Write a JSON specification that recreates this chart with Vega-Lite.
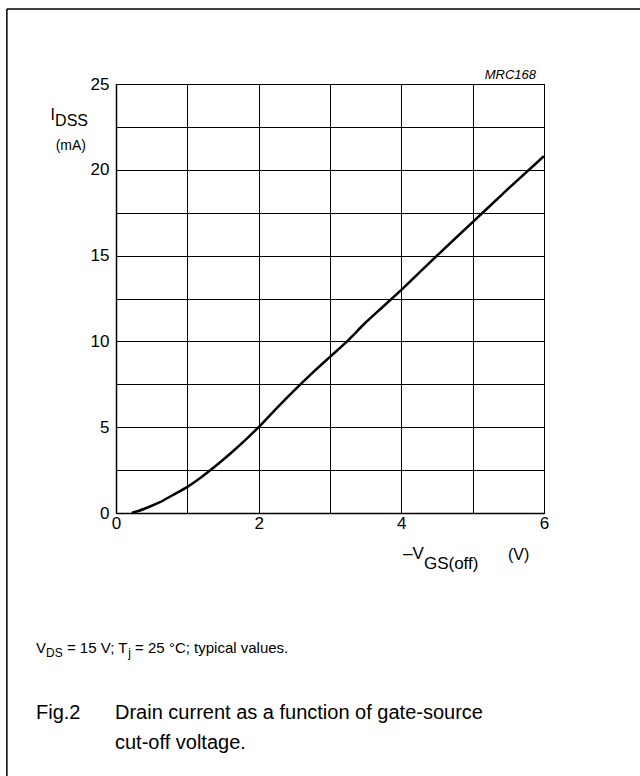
{
  "$schema": "https://vega.github.io/schema/vega-lite/v6.json",
  "width": 428,
  "height": 429,
  "autosize": {"type": "none"},
  "padding": {"left": 116, "top": 84, "right": 96, "bottom": 263},
  "background": "white",
  "config": {
    "font": "Liberation Sans",
    "view": {"stroke": "black", "strokeWidth": 1},
    "text": {"font": "Liberation Sans", "color": "black"}
  },
  "layer": [
    {
      "data": {"values": [
        {"v": 0.22, "i": 0}, {"v": 0.4, "i": 0.25}, {"v": 0.6, "i": 0.6}, {"v": 0.8, "i": 1.05},
        {"v": 1.0, "i": 1.52}, {"v": 1.2, "i": 2.1}, {"v": 1.4, "i": 2.75}, {"v": 1.6, "i": 3.45},
        {"v": 1.8, "i": 4.2}, {"v": 2.0, "i": 5.0}, {"v": 2.25, "i": 6.1}, {"v": 2.5, "i": 7.15},
        {"v": 2.75, "i": 8.15}, {"v": 3.0, "i": 9.1}, {"v": 3.25, "i": 10.05}, {"v": 3.5, "i": 11.1},
        {"v": 3.75, "i": 12.05}, {"v": 4.0, "i": 13.0}, {"v": 4.5, "i": 15.0}, {"v": 5.0, "i": 16.95},
        {"v": 5.5, "i": 18.9}, {"v": 6.0, "i": 20.8}
      ]},
      "mark": {"type": "line", "color": "black", "strokeWidth": 2.5, "interpolate": "monotone"},
      "encoding": {
        "x": {"field": "v", "type": "quantitative",
          "scale": {"domain": [0, 6], "nice": false, "zero": false},
          "axis": {"title": null, "values": [0, 1, 2, 3, 4, 5, 6], "labelExpr": "datum.value % 2 == 0 ? format(datum.value, 'd') : ''",
            "grid": true, "gridColor": "black", "gridWidth": 1, "gridOpacity": 1, "ticks": false,
            "domainColor": "black", "domainWidth": 1.5, "labelFont": "Liberation Sans", "labelFontSize": 17,
            "labelColor": "black", "labelPadding": 2, "labelDx": 2, "labelFlush": false, "labelOverlap": false}},
        "y": {"field": "i", "type": "quantitative",
          "scale": {"domain": [0, 25], "nice": false, "zero": false},
          "axis": {"title": null, "values": [0, 2.5, 5, 7.5, 10, 12.5, 15, 17.5, 20, 22.5, 25], "labelExpr": "datum.value % 5 == 0 ? format(datum.value, 'd') : ''",
            "grid": true, "gridColor": "black", "gridWidth": 1, "gridOpacity": 1, "ticks": false,
            "domainColor": "black", "domainWidth": 1.5, "labelFont": "Liberation Sans", "labelFontSize": 17,
            "labelColor": "black", "labelPadding": 7, "labelFlush": false, "labelOverlap": false}}
      }
    },
    {
      "data": {"values": [{"k": "frame"}]},
      "mark": {"type": "rule", "color": "black", "strokeWidth": 1.5},
      "encoding": {"x": {"datum": -1.53, "type": "quantitative"}, "x2": {"datum": 7.35}, "y": {"datum": 29.37, "type": "quantitative"}}
    },
    {
      "data": {"values": [{"k": "frame"}]},
      "mark": {"type": "rule", "color": "black", "strokeWidth": 1.5},
      "encoding": {"x": {"datum": -1.53, "type": "quantitative"}, "y": {"datum": 29.37, "type": "quantitative"}, "y2": {"datum": -15.33}}
    },
    {
      "data": {"values": [{"t": "MRC168"}]},
      "mark": {"type": "text", "align": "right", "baseline": "alphabetic", "fontSize": 13, "fontStyle": "italic"},
      "encoding": {"x": {"datum": 5.888, "type": "quantitative"}, "y": {"datum": 25.29, "type": "quantitative"}, "text": {"field": "t"}}
    },
    {
      "data": {"values": [{"t": "I"}]},
      "mark": {"type": "text", "align": "right", "baseline": "alphabetic", "fontSize": 16},
      "encoding": {"x": {"datum": -0.855, "type": "quantitative"}, "y": {"datum": 22.9, "type": "quantitative"}, "text": {"field": "t"}}
    },
    {
      "data": {"values": [{"t": "DSS"}]},
      "mark": {"type": "text", "align": "right", "baseline": "alphabetic", "fontSize": 16},
      "encoding": {"x": {"datum": -0.3925, "type": "quantitative"}, "y": {"datum": 22.58, "type": "quantitative"}, "text": {"field": "t"}}
    },
    {
      "data": {"values": [{"t": "(mA)"}]},
      "mark": {"type": "text", "align": "right", "baseline": "alphabetic", "fontSize": 14},
      "encoding": {"x": {"datum": -0.4206, "type": "quantitative"}, "y": {"datum": 21.15, "type": "quantitative"}, "text": {"field": "t"}}
    },
    {
      "data": {"values": [{"t": "–V"}]},
      "mark": {"type": "text", "align": "left", "baseline": "alphabetic", "fontSize": 17},
      "encoding": {"x": {"datum": 4.023, "type": "quantitative"}, "y": {"datum": -2.68, "type": "quantitative"}, "text": {"field": "t"}}
    },
    {
      "data": {"values": [{"t": "GS(off)"}]},
      "mark": {"type": "text", "align": "left", "baseline": "alphabetic", "fontSize": 17},
      "encoding": {"x": {"datum": 4.317, "type": "quantitative"}, "y": {"datum": -3.26, "type": "quantitative"}, "text": {"field": "t"}}
    },
    {
      "data": {"values": [{"t": "(V)"}]},
      "mark": {"type": "text", "align": "left", "baseline": "alphabetic", "fontSize": 16},
      "encoding": {"x": {"datum": 5.495, "type": "quantitative"}, "y": {"datum": -2.74, "type": "quantitative"}, "text": {"field": "t"}}
    },
    {
      "data": {"values": [{"t": "V"}]},
      "mark": {"type": "text", "align": "left", "baseline": "alphabetic", "fontSize": 15},
      "encoding": {"x": {"datum": -1.1215, "type": "quantitative"}, "y": {"datum": -8.159, "type": "quantitative"}, "text": {"field": "t"}}
    },
    {
      "data": {"values": [{"t": "DS"}]},
      "mark": {"type": "text", "align": "left", "baseline": "alphabetic", "fontSize": 12},
      "encoding": {"x": {"datum": -0.9813, "type": "quantitative"}, "y": {"datum": -8.392, "type": "quantitative"}, "text": {"field": "t"}}
    },
    {
      "data": {"values": [{"t": "= 15 V; T"}]},
      "mark": {"type": "text", "align": "left", "baseline": "alphabetic", "fontSize": 15},
      "encoding": {"x": {"datum": -0.6883, "type": "quantitative"}, "y": {"datum": -8.159, "type": "quantitative"}, "text": {"field": "t"}}
    },
    {
      "data": {"values": [{"t": "j"}]},
      "mark": {"type": "text", "align": "left", "baseline": "alphabetic", "fontSize": 12},
      "encoding": {"x": {"datum": 0.171, "type": "quantitative"}, "y": {"datum": -8.392, "type": "quantitative"}, "text": {"field": "t"}}
    },
    {
      "data": {"values": [{"t": "= 25 °C; typical values."}]},
      "mark": {"type": "text", "align": "left", "baseline": "alphabetic", "fontSize": 15},
      "encoding": {"x": {"datum": 0.2678, "type": "quantitative"}, "y": {"datum": -8.159, "type": "quantitative"}, "text": {"field": "t"}}
    },
    {
      "data": {"values": [{"t": "Fig.2"}]},
      "mark": {"type": "text", "align": "left", "baseline": "alphabetic", "fontSize": 20},
      "encoding": {"x": {"datum": -1.1215, "type": "quantitative"}, "y": {"datum": -12.0, "type": "quantitative"}, "text": {"field": "t"}}
    },
    {
      "data": {"values": [{"t": "Drain current as a function of gate-source"}]},
      "mark": {"type": "text", "align": "left", "baseline": "alphabetic", "fontSize": 20},
      "encoding": {"x": {"datum": -0.014, "type": "quantitative"}, "y": {"datum": -12.0, "type": "quantitative"}, "text": {"field": "t"}}
    },
    {
      "data": {"values": [{"t": "cut-off voltage."}]},
      "mark": {"type": "text", "align": "left", "baseline": "alphabetic", "fontSize": 20},
      "encoding": {"x": {"datum": -0.014, "type": "quantitative"}, "y": {"datum": -13.75, "type": "quantitative"}, "text": {"field": "t"}}
    }
  ]
}
